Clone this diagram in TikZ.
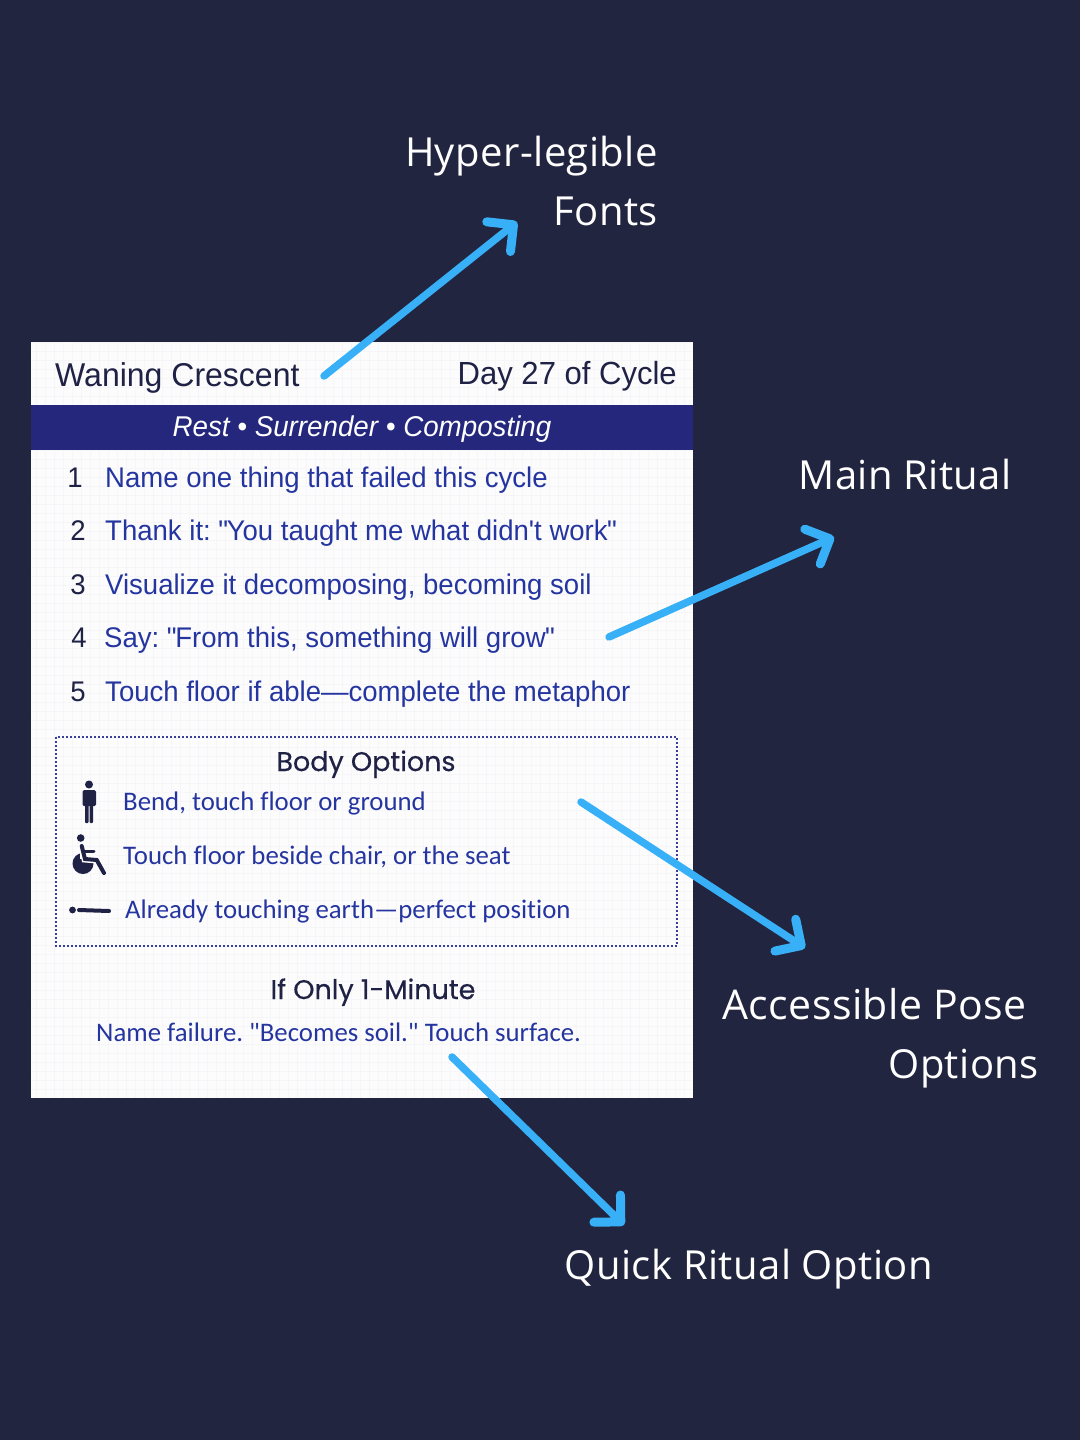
\documentclass[tikz,border=0pt]{standalone}
\usepackage{fontspec}
\setmainfont[LetterSpace=1.1]{Open Sans}
\newfontfamily\cardfont[FakeStretch=0.97]{Liberation Sans}
\newfontfamily\optionfont[Ligatures=NoCommon]{Carlito}
\newfontfamily\headfont[FakeBold=0.4]{Poppins}
\usetikzlibrary{arrows.meta}
\definecolor{nightbg}{HTML}{222540}
\definecolor{cardbg}{HTML}{FCFCFD}
\definecolor{cardgrid}{HTML}{F6F6F8}
\definecolor{bandblue}{HTML}{25277C}
\definecolor{stepblue}{HTML}{2535A0}
\definecolor{inkdark}{HTML}{1F2145}
\definecolor{arrowblue}{HTML}{38B0F8}
\definecolor{dotblue}{HTML}{3A3F9A}
\newcommand{\openq}{"\kern-1.5pt}
\newcommand{\closeq}{\kern-0.5pt"}
\tikzset{
  callout/.style={text=white,font=\fontsize{40}{40}\selectfont,anchor=base east,inner sep=0pt},
  pointer/.style={draw=arrowblue,line width=7.5pt,line cap=round,-{Straight Barb[length=19pt,width=38pt,round,line width=9pt]}},
  steptext/.style={text=stepblue,font=\cardfont\frenchspacing\fontsize{28.4}{28}\selectfont,anchor=base west,inner sep=0pt},
  stepnum/.style={text=inkdark,font=\cardfont\fontsize{28.4}{28}\selectfont,anchor=base,inner sep=0pt},
  optiontext/.style={text=stepblue,font=\optionfont\frenchspacing\fontsize{26.8}{28}\selectfont,anchor=base west,inner sep=0pt},
  headtext/.style={text=inkdark,font=\headfont\fontsize{27}{28}\selectfont,anchor=base,inner sep=0pt},
  icon/.style={fill=inkdark,draw=none},
  iconline/.style={draw=inkdark,line cap=round},
}
\begin{document}
\begin{tikzpicture}[x=1pt,y=-1pt]
\fill[nightbg] (0,0) rectangle (1080,1440);
\useasboundingbox (0,0) rectangle (1080,1440);
\fill[cardbg] (31,342) rectangle (692.6,1097.6);
\draw[cardgrid,line width=0.6pt,xstep=9pt,ystep=9pt] (31,342) grid (692.6,1097.6);
\fill[bandblue] (31,405) rectangle (692.6,450);
\draw[dotblue,line width=2pt,dash pattern=on 2pt off 2pt] (56,737) rectangle (677,946);

\node[text=inkdark,font=\cardfont\fontsize{33}{33}\selectfont,anchor=base west,inner sep=0pt] (title) at (55,386) {Waning Crescent};
\node[text=inkdark,font=\cardfont\fontsize{32}{33}\selectfont,anchor=base east,inner sep=0pt] (day) at (677,384) {Day 27 of Cycle};
\node[text=white,font=\cardfont\itshape\fontsize{28.6}{28}\selectfont,anchor=base,inner sep=0pt] (theme) at (362,436) {Rest • Surrender • Composting};

\node[stepnum] (num1) at (75,487.5) {1};
\node[stepnum] (num2) at (78,540.5) {2};
\node[stepnum] (num3) at (78,594.5) {3};
\node[stepnum] (num4) at (79,647.5) {4};
\node[stepnum] (num5) at (78,701.5) {5};
\node[steptext] (step1) at (105,487.5) {Name one thing that failed this cycle};
\node[steptext] (step2) at (105,540.5) {Thank it: \openq You taught me what didn't work\closeq};
\node[steptext] (step3) at (105,594.5) {Visualize it decomposing, becoming soil};
\node[steptext] (step4) at (104,647.5) {Say: \openq From this, something will grow\closeq};
\node[steptext] (step5) at (105,701.5) {Touch floor if able—complete the metaphor};

\node[headtext] (bodyhead) at (366,771) {Body Options};
\node[optiontext] (bend) at (123,810) {Bend, touch floor or ground};
\node[optiontext] (chair) at (123,864) {Touch floor beside chair, or the seat};
\node[optiontext] (lying) at (125,918) {Already touching earth—perfect position};
\node[headtext] (quickhead) at (373,999) {If Only 1-Minute};
\node[optiontext] (quick) at (96,1041) {Name failure. "Becomes soil." Touch surface.};

\fill[icon] (89,784.5) circle (4pt);
\fill[icon,rounded corners=1.5pt] (82.5,790) rectangle (96,806);
\fill[icon,rounded corners=1pt] (85,800) rectangle (88.6,823);
\fill[icon,rounded corners=1pt] (89.6,800) rectangle (93.2,823);
\fill[icon] (80.7,838) circle (3.8pt);
\fill[icon] (83,863.5) circle (10.5pt);
\fill[cardbg] (80,848) rectangle (96,859);
\draw[cardbg,line width=7pt] (82,846) -- (85,859) -- (97,860);
\draw[iconline,line width=4pt] (81.7,846) -- (85,859) -- (96.7,860) -- (104,873);
\draw[iconline,line width=3pt] (83,851) -- (94,851);
\fill[icon] (72.5,910) circle (3.4pt);
\draw[iconline,line width=4pt] (79,910) -- (109,911);

\node[callout] (fontlabel) at (658,166) {Hyper-legible};
\node[callout] (fontlabelb) at (658,225) {Fonts};
\node[callout] (mainlabel) at (1012,489) {Main Ritual};
\node[callout,font=\fontsize{41}{41}\selectfont] (poselabel) at (1027,1019) {Accessible Pose};
\node[callout] (poselabelb) at (1039,1078) {Options};
\node[callout] (quicklabel) at (933,1279) {Quick Ritual Option};

\coordinate (fontstart) at (324,376);
\coordinate (fontend) at (517,222);
\coordinate (mainstart) at (609,637);
\coordinate (mainend) at (834,537);
\coordinate (posestart) at (581,802);
\coordinate (poseend) at (805,948);
\coordinate (quickstart) at (452,1057);
\coordinate (quickend) at (624,1225);
\draw[pointer] (fontstart) -- (fontend);
\draw[pointer] (mainstart) -- (mainend);
\draw[pointer] (posestart) -- (poseend);
\draw[pointer] (quickstart) -- (quickend);
\end{tikzpicture}
\end{document}
